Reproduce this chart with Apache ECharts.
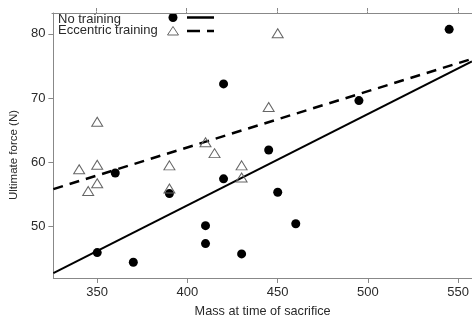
<!DOCTYPE html>
<html><head><meta charset="utf-8">
<script src="https://cdn.jsdelivr.net/npm/echarts@6/dist/echarts.min.js"></script>
<style>html,body{margin:0;padding:0;background:#fff}#c{width:472px;height:323px}</style>
</head><body><div id="c"></div>
<script>
// No training (filled circles): mass, ultimate force
const noTrainMass  = [350, 370, 360, 390, 410, 410, 420, 420, 430, 445, 450, 460, 495, 545];
const noTrainForce = [45.9, 44.4, 58.3, 55.1, 50.1, 47.3, 72.2, 57.4, 45.7, 61.9, 55.3, 50.4, 69.6, 80.7];
// Eccentric training (open triangles)
const eccMass  = [340, 345, 350, 350, 350, 390, 390, 410, 415, 430, 430, 445, 450];
const eccForce = [58.9, 55.5, 59.6, 56.7, 66.3, 59.5, 55.9, 63.1, 61.4, 59.5, 57.6, 68.6, 80.1];
// Fitted lines (endpoints)
const fitNoMass = [325.7, 557.6];
const fitNoForce = [42.7, 75.7];
const fitEccMass = [325.7, 557.6];
const fitEccForce = [55.8, 76.1];
// Axis ticks
const xTicks = [350, 400, 450, 500, 550];
const yTicks = [50, 60, 70, 80];
const xName = 'Mass at time of sacrifice';
const yName = 'Ultimate force (N)';
const legendNames = ['No training', 'Eccentric training'];

const zip = (a, b) => a.map((v, i) => [v, b[i]]);
const font = 'Liberation Sans, Arial, Helvetica, sans-serif';
const axisCol = '#888';
const textCol = '#2a2a2a';

const chart = echarts.init(document.getElementById('c'));
chart.setOption({
  animation: false,
  backgroundColor: '#fff',
  grid: [
    {left: 52, top: 13, right: 0, bottom: 39, containLabel: false},
    {left: 52, top: 13, right: 0, bottom: 39, containLabel: false}
  ],
  xAxis: [{
    type: 'value', gridIndex: 0, position: 'bottom', min: 325.7, max: 557.6,
    name: xName, nameLocation: 'middle', nameGap: 27,
    nameTextStyle: {fontFamily: font, fontSize: 12.7, color: textCol},
    axisLine: {show: true, onZero: false, lineStyle: {color: axisCol, width: 1}},
    axisTick: {show: true, inside: false, length: 5, customValues: xTicks, lineStyle: {color: axisCol}},
    axisLabel: {show: true, margin: 8, customValues: xTicks, fontFamily: font, fontSize: 13, color: textCol},
    splitLine: {show: false}
  }, {
    type: 'value', gridIndex: 1, position: 'top', min: 325.7, max: 557.6,
    axisLine: {show: true, onZero: false, lineStyle: {color: axisCol, width: 1}},
    axisTick: {show: true, inside: false, length: 5, customValues: xTicks, lineStyle: {color: axisCol, width: 1}},
    axisLabel: {show: true, customValues: xTicks, color: '#fff', fontSize: 2, margin: 1},
    splitLine: {show: false}
  }],
  yAxis: [{
    type: 'value', gridIndex: 0, min: 41.94, max: 83.25,
    name: yName, nameLocation: 'middle', nameGap: 28, nameRotate: 90,
    nameTextStyle: {fontFamily: font, fontSize: 11.5, color: textCol, padding: [0, 19, 0, 0]},
    axisLine: {show: true, onZero: false, lineStyle: {color: axisCol, width: 1}},
    axisTick: {show: true, inside: false, length: 5, customValues: yTicks, lineStyle: {color: axisCol}},
    axisLabel: {show: true, margin: 8, customValues: yTicks, fontFamily: font, fontSize: 13, color: textCol},
    splitLine: {show: false}
  }, {
    type: 'value', gridIndex: 1, min: 41.94, max: 83.25, show: false
  }],
  series: [{
    name: legendNames[0] + ' fit', type: 'line', xAxisIndex: 0, yAxisIndex: 0,
    data: zip(fitNoMass, fitNoForce), showSymbol: false, symbol: 'none',
    lineStyle: {color: '#000', width: 2}, z: 2, silent: true
  }, {
    name: legendNames[1] + ' fit', type: 'line', xAxisIndex: 0, yAxisIndex: 0,
    data: zip(fitEccMass, fitEccForce), showSymbol: false, symbol: 'none',
    lineStyle: {color: '#000', width: 2.5, type: [10, 7]}, z: 2, silent: true
  }, {
    name: legendNames[0], type: 'scatter', xAxisIndex: 0, yAxisIndex: 0,
    data: zip(noTrainMass, noTrainForce), symbol: 'circle', symbolSize: 9,
    itemStyle: {color: '#000', opacity: 1}, z: 3
  }, {
    name: legendNames[1], type: 'scatter', xAxisIndex: 0, yAxisIndex: 0,
    data: zip(eccMass, eccForce), symbol: 'triangle', symbolSize: [11, 9],
    itemStyle: {color: 'rgba(0,0,0,0)', borderColor: '#666', borderWidth: 1, opacity: 1}, z: 4
  }, {
    name: 'top axis', type: 'scatter', xAxisIndex: 1, yAxisIndex: 1,
    data: zip(fitNoMass, fitNoForce), symbolSize: 0, silent: true, itemStyle: {opacity: 0}
  }],
  graphic: [
    {type: 'text', style: {x: 58, y: 19, text: legendNames[0], fontFamily: font, fontSize: 13, fill: textCol, verticalAlign: 'middle'}},
    {type: 'text', style: {x: 58, y: 30.5, text: legendNames[1], fontFamily: font, fontSize: 13, fill: textCol, verticalAlign: 'middle'}},
    {type: 'circle', shape: {cx: 173, cy: 17.5, r: 4.5}, style: {fill: '#000'}},
    {type: 'polygon', shape: {points: [[173, 26.5], [178.5, 35], [167.5, 35]]}, style: {fill: 'none', stroke: '#666', lineWidth: 1}},
    {type: 'line', shape: {x1: 187, y1: 17.5, x2: 214, y2: 17.5}, style: {stroke: '#000', lineWidth: 2.5}},
    {type: 'line', shape: {x1: 187, y1: 31, x2: 214, y2: 31}, style: {stroke: '#000', lineWidth: 2.5, lineDash: [13, 7]}}
  ]
});
</script></body></html>
